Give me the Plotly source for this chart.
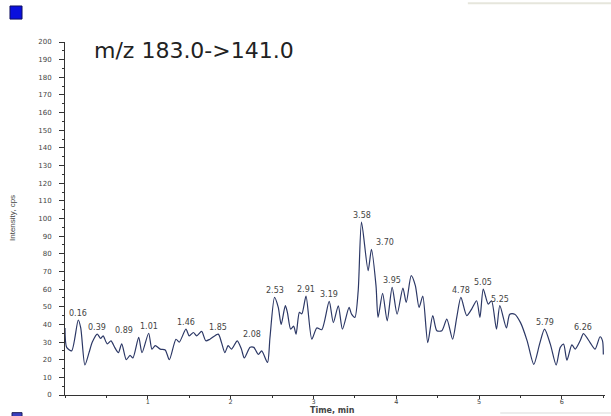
import plotly.graph_objects as go

# Chromatogram trace for the 183.0 -> 141.0 transition
time_min = [
    0.00, 0.02, 0.08, 0.16, 0.19, 0.24, 0.29, 0.33, 0.39, 0.43, 0.46, 0.51,
    0.555, 0.60, 0.645, 0.685, 0.74, 0.785, 0.82, 0.89, 0.93, 1.01, 1.05,
    1.09, 1.15, 1.21, 1.26, 1.34, 1.38, 1.46, 1.50, 1.55, 1.59, 1.65, 1.70,
    1.75, 1.85, 1.89, 1.93, 1.97, 2.01, 2.08, 2.13, 2.165, 2.235, 2.28,
    2.335, 2.375, 2.445, 2.475, 2.53, 2.575, 2.61, 2.66, 2.685, 2.725, 2.76,
    2.79, 2.83, 2.86, 2.91, 2.98, 3.04, 3.10, 3.19, 3.24, 3.30, 3.35, 3.43,
    3.46, 3.50, 3.54, 3.58, 3.66, 3.70, 3.755, 3.78, 3.835, 3.89, 3.95,
    4.01, 4.08, 4.12, 4.18, 4.23, 4.275, 4.32, 4.38, 4.44, 4.49, 4.55, 4.61,
    4.68, 4.73, 4.78, 4.85, 4.91, 4.97, 5.01, 5.05, 5.11, 5.15, 5.21, 5.25,
    5.33, 5.37, 5.43, 5.50, 5.58, 5.66, 5.73, 5.79, 5.86, 5.93, 5.98, 6.02,
    6.06, 6.12, 6.16, 6.22, 6.26, 6.34, 6.40, 6.46, 6.49, 6.50,
]
intensity_cps = [
    38, 27, 25, 42.5, 38, 17, 24, 30, 34.5, 32, 33.5, 29,
    30.7, 27, 24, 29, 20, 22.5, 21, 32.6, 24, 35, 26,
    28, 26, 25.5, 20, 31.6, 30, 37.3, 33.5, 35.4, 33.5, 36, 30.7,
    31.6, 34.5, 29.7, 24, 28, 26, 30.7, 26, 21, 27, 27,
    23, 25, 18.4, 32.6, 55.3, 49.6, 40, 50.6, 46.8, 37.3, 39,
    34.5, 46.8, 46, 56, 31.6, 38, 37, 53, 41, 50.5, 37.3, 49.6,
    45.8, 44, 59, 98, 70.5, 82.5, 62, 44, 57.6, 42, 61,
    45.8, 60.6, 52.4, 67.6, 62, 49.6, 56, 29.7, 45, 36.4, 36.4, 43,
    31.6, 44, 55.3, 45, 48.7, 53.4, 44, 60, 51.5, 53.4, 37.3, 50.6,
    38, 45.8, 45.8, 41, 30.7, 17.4, 28.8, 37.3, 28.8, 17, 27, 28.8,
    19.7, 28.4, 26, 30.7, 34.8, 29.7, 26, 33, 30.7, 23,
]

# Retention-time labels printed above picked peaks
peak_labels = ["0.16", "0.39", "0.89", "1.01", "1.46", "1.85", "2.08", "2.53",
               "2.91", "3.19", "3.58", "3.70", "3.95", "4.78", "5.05", "5.25",
               "5.79", "6.26"]
label_shift_px = {"0.89": -15, "2.08": 15, "3.70": 14}

y_ticks = list(range(0, 201, 10))
x_ticks = [1, 2, 3, 4, 5, 6]

TRACE_COLOR = "#2c3866"
AXIS_COLOR = "#333333"
TEXT_COLOR = "#444444"

fig = go.Figure()
fig.add_trace(go.Scatter(
    x=time_min, y=intensity_cps, mode="lines",
    line=dict(color=TRACE_COLOR, width=1.2, shape="spline", smoothing=0.7),
    hoverinfo="x+y", showlegend=False,
))

annotations = []
for lab in peak_labels:
    t = float(lab)
    v = intensity_cps[time_min.index(t)]
    annotations.append(dict(
        x=t, y=v, xref="x", yref="y", text=lab, showarrow=False,
        yanchor="bottom", yshift=0, xshift=label_shift_px.get(lab, 0),
        font=dict(family="DejaVu Sans", size=8, color=TEXT_COLOR),
    ))

# Transition title inside the plot
annotations.append(dict(
    x=0.05, y=0.975, xref="paper", yref="paper", xanchor="left",
    yanchor="middle", showarrow=False, text="m/z 183.0->141.0",
    font=dict(family="DejaVu Sans", size=22, color="#222222"),
))
# Axis titles
annotations.append(dict(
    x=0, y=0.5, xref="paper", yref="paper", xshift=-59, showarrow=False,
    text="Intensity, cps", textangle=-90,
    font=dict(family="Liberation Sans", size=8, color=TEXT_COLOR),
))
annotations.append(dict(
    x=0.495, y=0, xref="paper", yref="paper", yshift=-15, yanchor="middle",
    showarrow=False, text="<b>Time, min</b>",
    font=dict(family="DejaVu Sans", size=8, color=TEXT_COLOR),
))

shapes = [
    # Trace colour swatch in the top-left corner
    dict(type="rect", xref="paper", yref="paper",
         x0=-0.1019, x1=-0.0796, y0=1.065, y1=1.102,
         fillcolor="#0a10dd", line=dict(color="#101060", width=1)),
    dict(type="rect", xref="paper", yref="paper",
         x0=-0.0981, x1=-0.0796, y0=-0.09, y1=-0.05,
         fillcolor="#3a3fbf", line=dict(color="#20205a", width=1)),
    # Faint window edges
    dict(type="line", xref="paper", yref="paper",
         x0=0.746, x1=1.02, y0=1.11, y1=1.11,
         line=dict(color="#e6e6dc", width=2)),
    dict(type="line", xref="paper", yref="paper",
         x0=0.806, x1=1.02, y0=-0.051, y1=-0.051,
         line=dict(color="#ececec", width=2)),
]

fig.update_layout(
    width=611, height=416,
    margin=dict(l=65, r=6, t=42, b=21),
    paper_bgcolor="white", plot_bgcolor="white",
    annotations=annotations, shapes=shapes,
    showlegend=False,
)
fig.update_xaxes(
    range=[0, 6.52], tickvals=x_ticks, ticktext=[str(v) for v in x_ticks],
    showgrid=False, zeroline=False, showline=True,
    linecolor=AXIS_COLOR, linewidth=1, ticks="outside", ticklen=3,
    tickcolor=AXIS_COLOR, tickwidth=1, ticklabelstandoff=-3,
    tickfont=dict(family="DejaVu Sans", size=6.5, color=TEXT_COLOR),
    minor=dict(dtick=0.5, tick0=0, ticks="outside", ticklen=2,
               tickcolor=AXIS_COLOR, showgrid=False),
)
fig.update_yaxes(
    range=[0, 200], tickvals=y_ticks, ticktext=[str(v) for v in y_ticks],
    showgrid=False, zeroline=False, showline=True,
    linecolor=AXIS_COLOR, linewidth=1, ticks="outside", ticklen=5,
    tickcolor=AXIS_COLOR, tickwidth=1, ticklabelstandoff=6,
    tickfont=dict(family="DejaVu Sans", size=7, color=TEXT_COLOR),
    minor=dict(dtick=5, tick0=0, ticks="outside", ticklen=2,
               tickcolor=AXIS_COLOR, showgrid=False),
)

fig.write_html("out.html")
